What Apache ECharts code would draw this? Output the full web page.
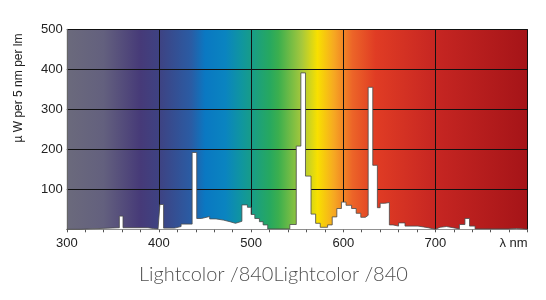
<!DOCTYPE html>
<html>
<head>
<meta charset="utf-8">
<script src="https://cdn.jsdelivr.net/npm/echarts@6/dist/echarts.min.js"></script>
<style>
html,body{margin:0;padding:0;background:#fff;}
#chart{width:546px;height:300px;}
</style>
</head>
<body>
<div id="chart"></div>
<script>
// Spectrum (step outline): value holds from each wavelength to the next one
var wavelengthNm = [300,315,357,361,388,394,399,401,405,417,424,436,441,446,455,462,470,477,483,490,496,500,504,509,513,518,542,549,554,559,565,570,575,583,588,593,598,603,609,614,619,624,627,632,637,640,645,650,654,660,667,681,687,692,700,705,712,719,726,732,737,743,779,788,800];
var powerValues  = [0,4,33,4,2,1,0,62,3,7,13,192,27,32,26,23,19,15,20,61,55,37,27,19,11,1,12,208,391,133,38,15,5,11,31,52,68,60,52,40,30,35,355,160,54,65,67,11,8,16,8,6,4,0,5,7,4,1,12,27,8,1,2,0,0];
var xTickLabels = {300:'300',400:'400',500:'500',600:'600',700:'700',800:'λ nm'};
var yTickLabels = {0:'',100:'100',200:'200',300:'300',400:'400',500:'500'};
var titleText = 'Lightcolor /840Lightcolor /840';
var yAxisTitle = 'µ W per 5 nm per lm';

var seriesData = wavelengthNm.map(function(w,i){return [w, powerValues[i]];});

function stop(nm,c){return {offset:(nm-300)/500,color:c};}
var spectrumGradient = new echarts.graphic.LinearGradient(0,0,1,0,[
  stop(300,'#6b6a7c'), stop(340,'#63607e'), stop(380,'#463a78'), stop(400,'#3e4282'),
  stop(435,'#2a5ca4'), stop(450,'#0a78c2'), stop(472,'#0a84c0'), stop(490,'#10969e'),
  stop(520,'#26a860'), stop(530,'#3caf4e'), stop(555,'#a6c83c'), stop(572,'#f8e000'),
  stop(590,'#f6a822'), stop(610,'#ec6428'), stop(635,'#e03c24'), stop(700,'#c62622'),
  stop(800,'#a51418')
]);

var chart = echarts.init(document.getElementById('chart'), null, {renderer:'canvas'});
chart.setOption({
  animation:false,
  title:{
    text:titleText, left:134, top:260,
    textStyle:{fontFamily:'Lato', fontWeight:300, fontSize:20, color:'#505050'}
  },
  grid:{left:66.8, right:18.4, top:29.3, bottom:70.7, show:true, backgroundColor:spectrumGradient, borderWidth:0},
  xAxis:{
    type:'value', min:300, max:800, interval:100,
    axisLine:{show:true, lineStyle:{color:'#777', width:1}},
    axisTick:{show:true, length:3, lineStyle:{color:'#555'}},
    minorTick:{show:true, splitNumber:5, length:3, lineStyle:{color:'#555'}},
    splitLine:{show:true, lineStyle:{color:'#111', width:1}},
    axisLabel:{
      formatter:function(v){return xTickLabels[v]!==undefined?xTickLabels[v]:'';},
      alignMaxLabel:'right', margin:8,
      fontFamily:'Liberation Sans', fontSize:13, color:'#222'
    }
  },
  yAxis:{
    type:'value', min:0, max:500, interval:100,
    axisLine:{show:true, lineStyle:{color:'#666', width:1}},
    axisTick:{show:false},
    splitLine:{show:true, lineStyle:{color:'#111', width:1}},
    axisLabel:{
      formatter:function(v){return yTickLabels[v]!==undefined?yTickLabels[v]:'';},
      margin:4, fontFamily:'Liberation Sans', fontSize:13, color:'#222'
    }
  },
  graphic:[{
    type:'text', x:19, y:88, rotation:Math.PI/2,
    style:{text:yAxisTitle, fontFamily:'Liberation Sans', fontSize:12, fill:'#222', align:'center', verticalAlign:'middle'}
  }],
  series:[{
    type:'line', step:'end', data:seriesData, symbol:'none',
    lineStyle:{color:'#4a4a4a', width:0.8},
    areaStyle:{color:'#ffffff', opacity:1},
    z:3
  }]
});
</script>
</body>
</html>
